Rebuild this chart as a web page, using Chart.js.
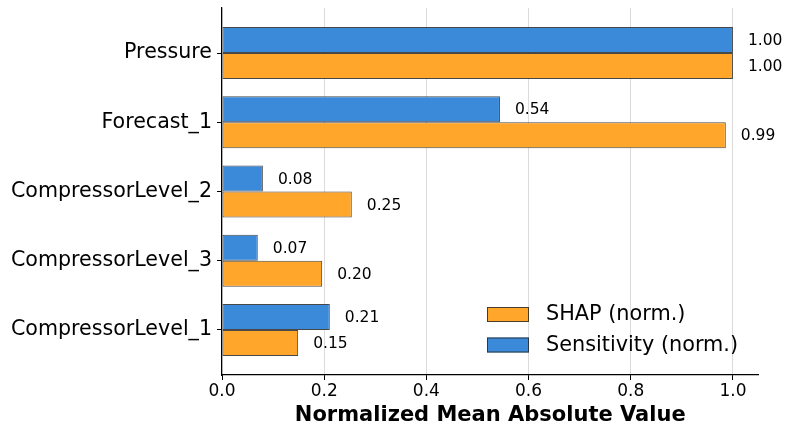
<!DOCTYPE html>
<html>
<head>
<meta charset="utf-8">
<script src="https://cdn.jsdelivr.net/npm/chart.js@4"></script>
<style>
  html, body { margin: 0; padding: 0; background: #fff; }
  #wrap { width: 793px; height: 434px; }
</style>
</head>
<body>
<div id="wrap"><canvas id="chart" width="793" height="434"></canvas></div>
<script>
/* ===== DATA ===== */
const features    = ['Pressure', 'Forecast_1', 'CompressorLevel_2', 'CompressorLevel_3', 'CompressorLevel_1'];
const sensitivity = [1.00, 0.544, 0.080, 0.070, 0.211];
const shap        = [1.00, 0.986, 0.254, 0.196, 0.149];
const xTicks      = [0, 0.2, 0.4, 0.6, 0.8, 1.0];

const BLUE   = '#3a8ad9';
const ORANGE = '#ffa62b';
const EDGE   = 'rgba(40,40,40,0.85)';
const FONT   = "'DejaVu Sans', sans-serif";

// value labels at bar ends
const valueLabels = {
  id: 'valueLabels',
  afterDatasetsDraw(chart) {
    const ctx = chart.ctx;
    ctx.save();
    ctx.font = `15.5px ${FONT}`;
    ctx.fillStyle = '#000';
    ctx.textAlign = 'left';
    ctx.textBaseline = 'middle';
    chart.data.datasets.forEach((ds, i) => {
      chart.getDatasetMeta(i).data.forEach((bar, j) => {
        ctx.fillText(ds.data[j].toFixed(2), bar.x + 15, bar.y + 1);
      });
    });
    ctx.restore();
  }
};

// legend in the lower right, SHAP listed first
const insideLegend = {
  id: 'insideLegend',
  afterDraw(chart) {
    const ctx = chart.ctx;
    const items = [
      { label: 'SHAP (norm.)', color: ORANGE },
      { label: 'Sensitivity (norm.)', color: BLUE }
    ];
    ctx.save();
    ctx.font = `20.8px ${FONT}`;
    ctx.textBaseline = 'middle';
    items.forEach((it, i) => {
      const y = 307 + i * 30.5;
      ctx.fillStyle = it.color;
      ctx.fillRect(487, y, 42, 15);
      ctx.strokeStyle = EDGE;
      ctx.lineWidth = 1;
      ctx.strokeRect(487.5, y + 0.5, 41, 14);
      ctx.fillStyle = '#000';
      ctx.fillText(it.label, 546, y + 8);
    });
    ctx.restore();
  }
};

new Chart(document.getElementById('chart'), {
  type: 'bar',
  data: {
    labels: features,
    datasets: [
      { label: 'Sensitivity (norm.)', data: sensitivity, backgroundColor: BLUE,   borderColor: EDGE, borderWidth: 1, borderSkipped: false },
      { label: 'SHAP (norm.)',        data: shap,        backgroundColor: ORANGE, borderColor: EDGE, borderWidth: 1, borderSkipped: false }
    ]
  },
  options: {
    indexAxis: 'y',
    responsive: false,
    animation: false,
    devicePixelRatio: 1,
    categoryPercentage: 0.75,
    barPercentage: 1.0,
    layout: { padding: { top: 8, right: 34.5, left: 0, bottom: 0 } },
    plugins: { legend: { display: false }, tooltip: { enabled: false } },
    scales: {
      x: {
        type: 'linear', min: 0, max: 1.05,
        afterBuildTicks: s => { s.ticks = xTicks.map(v => ({ value: v })); },
        afterFit: s => { s.height = 59; s.paddingLeft = 0; s.paddingRight = 0; },
        ticks: { color: '#000', font: { family: FONT, size: 17 }, padding: 1, callback: v => v.toFixed(1) },
        grid: { color: 'rgba(0,0,0,0.14)', borderDash: [5, 4], tickColor: '#000', tickBorderDash: [], tickLength: 5 },
        border: { display: true, color: '#000', width: 1.2 },
        title: { display: true, text: 'Normalized Mean Absolute Value', color: '#000', font: { family: FONT, size: 21, weight: 'bold' }, padding: { top: 0, bottom: 6 } }
      },
      y: {
        offset: true,
        afterBuildTicks: s => { s._startValue = -0.65; s._valueRange = features.length - 1 + 1.3; },
        afterFit: s => { s.width = 222; s.paddingTop = 0; s.paddingBottom = 0; },
        ticks: { color: '#000', font: { family: FONT, size: 20.6 }, padding: 5 },
        grid: { offset: false, drawOnChartArea: false, color: '#000', tickLength: 5 },
        border: { display: true, color: '#000', width: 1.2 }
      }
    }
  },
  plugins: [valueLabels, insideLegend]
});
</script>
</body>
</html>
